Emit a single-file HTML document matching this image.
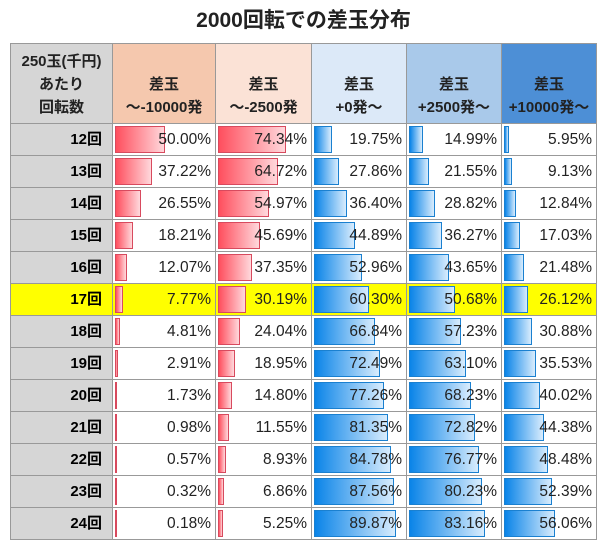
<!DOCTYPE html><html><head><meta charset="utf-8"><style>
body{margin:0;width:607px;height:548px;background:#fff;font-family:"Liberation Sans","Noto Sans CJK JP",sans-serif;position:relative;overflow:hidden}
.t{position:absolute;left:0;width:607px;top:4px;text-align:center;font-size:21px;font-weight:bold;color:#222}
.c{position:absolute;box-sizing:border-box;border-right:1px solid #999;border-bottom:1px solid #999}
.h{font-weight:bold;font-size:15px;color:#222;text-align:center;line-height:23px;display:flex;flex-direction:column;justify-content:flex-end;padding-bottom:4px}
.v{font-size:15.5px;color:#222;text-align:right;padding-right:4px;line-height:31px}
.l{font-weight:bold;font-size:15px;background:#d6d6d6;text-align:right;padding-right:10px;line-height:31px}
.b{position:absolute;top:2px;bottom:2px;left:2px;box-sizing:border-box}
.r{background:linear-gradient(90deg,#ff4f5e,#ffd8dc);border:1px solid #d84a5e}
.u{background:linear-gradient(90deg,#0a84e8,#d8ecfd);border:1px solid #1a80d0}
span{position:relative}
</style></head><body>
<div class="t">2000回転での差玉分布</div>
<div id="g"></div>
<script>
var X=[10,113,216,312,407,502,597];
var hb=['#d6d6d6','#f5c8ae','#fbe2d6','#dce9f8','#a9c9ea','#4d8fd6'];
var ht=['250玉(千円)<br>あたり<br>回転数','差玉<br>～-10000発','差玉<br>～-2500発','差玉<br>+0発～','差玉<br>+2500発～','差玉<br>+10000発～'];
var D=[[50.00,74.34,19.75,14.99,5.95],[37.22,64.72,27.86,21.55,9.13],[26.55,54.97,36.40,28.82,12.84],[18.21,45.69,44.89,36.27,17.03],[12.07,37.35,52.96,43.65,21.48],[7.77,30.19,60.30,50.68,26.12],[4.81,24.04,66.84,57.23,30.88],[2.91,18.95,72.49,63.10,35.53],[1.73,14.80,77.26,68.23,40.02],[0.98,11.55,81.35,72.82,44.38],[0.57,8.93,84.78,76.77,48.48],[0.32,6.86,87.56,80.23,52.39],[0.18,5.25,89.87,83.16,56.06]];
var s='<div style="position:absolute;left:10px;top:43px;width:587px;height:497px;border-left:1px solid #999;border-top:1px solid #999;box-sizing:border-box"></div>';
for(var j=0;j<6;j++){s+='<div class="c h" style="left:'+X[j]+'px;top:44px;width:'+(X[j+1]-X[j])+'px;height:80px;background:'+hb[j]+(j==0?';border-left:1px solid #999':'')+'">'+ht[j]+'</div>';}
for(var i=0;i<13;i++){var y=124+i*32,hl=i==5;
s+='<div class="c l" style="left:10px;top:'+y+'px;width:103px;height:32px;border-left:1px solid #999;'+(hl?'background:#ffff00':'')+'">'+(12+i)+'回</div>';
for(var j=0;j<5;j++){var w=X[j+2]-X[j+1];var v=D[i][j];
s+='<div class="c v" style="left:'+X[j+1]+'px;top:'+y+'px;width:'+w+'px;height:32px;'+(hl?'background:#ffff00':'')+'"><div class="b '+(j<2?'r':'u')+'" style="width:'+Math.max(2,v/100*(w-4)).toFixed(1)+'px"></div><span>'+v.toFixed(2)+'%</span></div>';}}
document.getElementById('g').innerHTML=s;
</script></body></html>
